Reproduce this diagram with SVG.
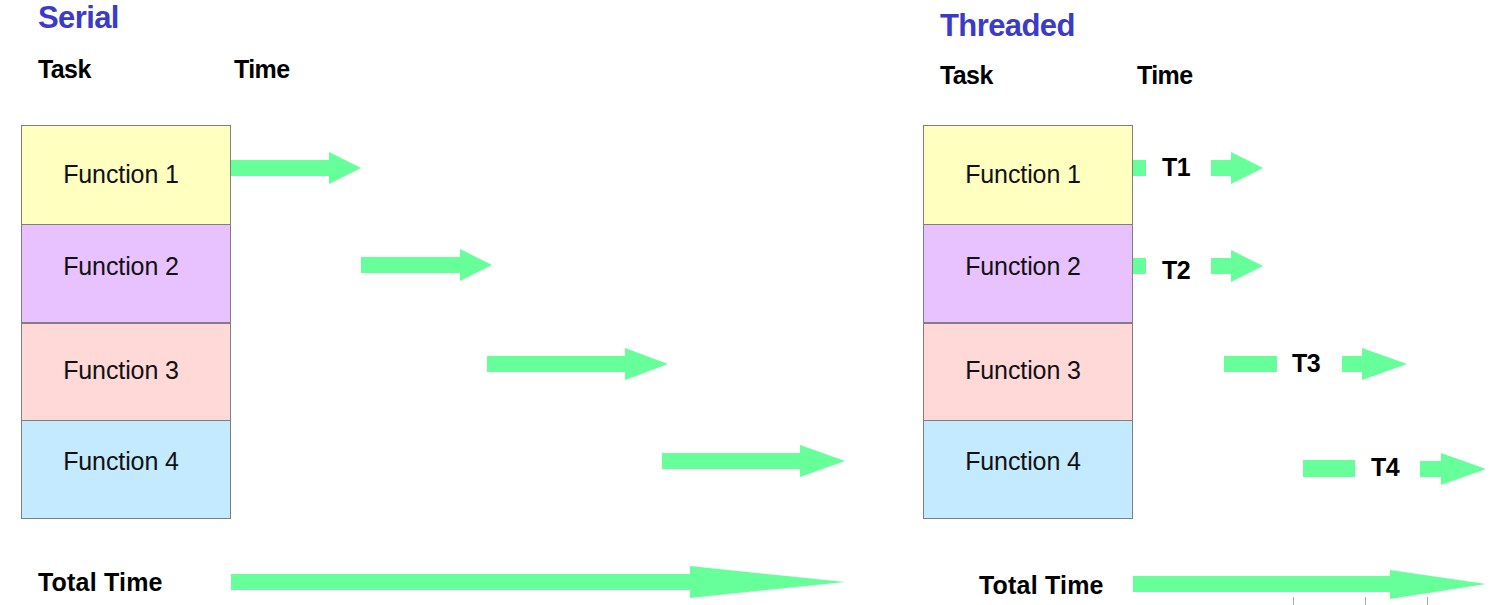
<svg xmlns="http://www.w3.org/2000/svg" width="1492" height="605" viewBox="0 0 1492 605">
<style>
.title{font-family:"Liberation Sans",Arial,sans-serif;font-weight:bold;fill:#3b3bc8;letter-spacing:-0.6px}
.hdr{font-family:"Liberation Sans",Arial,sans-serif;font-weight:bold;font-size:25px;fill:#000;letter-spacing:-0.6px}
.tot{font-family:"Liberation Sans",Arial,sans-serif;font-weight:bold;font-size:25px;fill:#000;letter-spacing:0.2px}
.fn{font-family:"Liberation Sans",Arial,sans-serif;font-size:25px;fill:#111;text-anchor:middle;letter-spacing:-0.1px}
.tl{font-family:"Liberation Sans",Arial,sans-serif;font-weight:bold;font-size:25px;fill:#000;letter-spacing:-0.5px}
.box{stroke:#7f7f7f;stroke-width:1}
.arr{fill:#66ff99}
.tick{stroke:#aaaaaa;stroke-width:1}
</style>
<rect width="1492" height="605" fill="#ffffff"/>
<g id="labels">
<text class="title" x="38" y="28" font-size="31">Serial</text>
<text class="title" x="940" y="36" font-size="31">Threaded</text>
<text class="hdr" x="38" y="78">Task</text>
<text class="hdr" x="234" y="78">Time</text>
<text class="hdr" x="940" y="84">Task</text>
<text class="hdr" x="1137" y="84">Time</text>
<text class="tot" x="38" y="591">Total Time</text>
<text class="tot" x="979" y="594">Total Time</text>
</g>
<g id="serial-f1"><rect class="box" x="21.5" y="125.5" width="209" height="99" fill="#ffffc0"/><text class="fn" x="121" y="183">Function 1</text></g>
<g id="serial-f2"><rect class="box" x="21.5" y="224.5" width="209" height="98" fill="#e8c2ff"/><text class="fn" x="121" y="275">Function 2</text></g>
<g id="serial-f3"><rect class="box" x="21.5" y="323.5" width="209" height="97" fill="#ffd8d8"/><text class="fn" x="121" y="379">Function 3</text></g>
<g id="serial-f4"><rect class="box" x="21.5" y="420.5" width="209" height="98" fill="#c4eaff"/><text class="fn" x="121" y="470">Function 4</text></g>
<g id="thread-f1"><rect class="box" x="923.5" y="125.5" width="209" height="99" fill="#ffffc0"/><text class="fn" x="1023" y="183">Function 1</text></g>
<g id="thread-f2"><rect class="box" x="923.5" y="224.5" width="209" height="98" fill="#e8c2ff"/><text class="fn" x="1023" y="275">Function 2</text></g>
<g id="thread-f3"><rect class="box" x="923.5" y="323.5" width="209" height="97" fill="#ffd8d8"/><text class="fn" x="1023" y="379">Function 3</text></g>
<g id="thread-f4"><rect class="box" x="923.5" y="420.5" width="209" height="98" fill="#c4eaff"/><text class="fn" x="1023" y="470">Function 4</text></g>
<g id="connectors">
<polygon class="arr" points="231,160 329,160 329,152 361,168 329,184 329,176 231,176"/>
<polygon class="arr" points="361,257 460,257 460,249 492,265 460,281 460,273 361,273"/>
<polygon class="arr" points="487,356 625,356 625,348 668,364 625,380 625,372 487,372"/>
<polygon class="arr" points="662,453 800,453 800,445 845,461 800,477 800,469 662,469"/>
<polygon class="arr" points="231,574 690,574 690,566 845,582 690,598 690,590 231,590"/>
<rect class="arr" x="1133" y="160" width="13" height="16"/>
<polygon class="arr" points="1211,160 1231,160 1231,152 1263,168 1231,184 1231,176 1211,176"/>
<rect class="arr" x="1133" y="258" width="13" height="16"/>
<polygon class="arr" points="1211,258 1231,258 1231,250 1263,266 1231,282 1231,274 1211,274"/>
<rect class="arr" x="1224" y="356" width="53" height="16"/>
<polygon class="arr" points="1342,356 1362,356 1362,348 1407,364 1362,380 1362,372 1342,372"/>
<rect class="arr" x="1303" y="460" width="52" height="17"/>
<polygon class="arr" points="1420,461 1441,461 1441,453 1486,469 1441,485 1441,477 1420,477"/>
<polygon class="arr" points="1133,576 1390,576 1390,570 1486,584 1390,599 1390,592 1133,592"/>
</g>
<g id="thread-labels">
<text class="tl" x="1162" y="176">T1</text>
<text class="tl" x="1162" y="279">T2</text>
<text class="tl" x="1292" y="372">T3</text>
<text class="tl" x="1371" y="476">T4</text>
</g>
<g id="ticks">
<line class="tick" x1="1293.5" y1="597" x2="1293.5" y2="605"/>
<line class="tick" x1="1365.5" y1="597" x2="1365.5" y2="605"/>
<line class="tick" x1="1427.5" y1="597" x2="1427.5" y2="605"/>
</g>
</svg>
